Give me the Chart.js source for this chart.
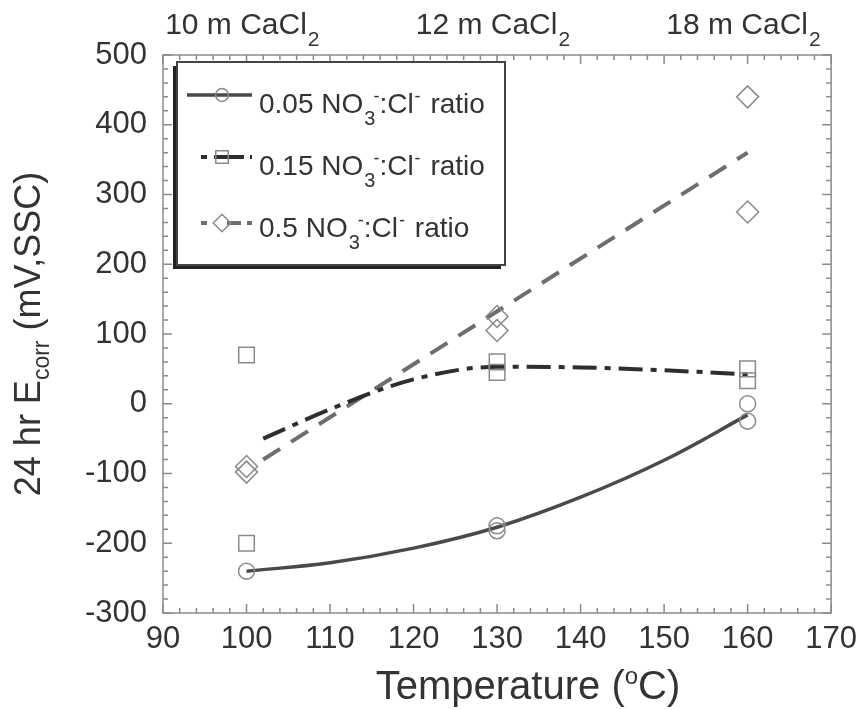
<!DOCTYPE html>
<html>
<head>
<meta charset="utf-8">
<script src="https://cdn.jsdelivr.net/npm/chart.js@4.4.0/dist/chart.umd.min.js"></script>
<style>
  html, body { margin: 0; padding: 0; background: #fff; }
  #wrap { width: 865px; height: 710px; }
</style>
</head>
<body>
<div id="wrap"><canvas id="chart"></canvas></div>
<script>
// Measured points (Temperature in C, Ecorr in mV SSC)
const circleX = [100, 130, 130, 160, 160];
const circleY = [-240, -175, -182, 0, -25];
const squareX = [100, 100, 130, 130, 160, 160];
const squareY = [70, -200, 60, 45, 50, 33];
const diamondX = [100, 100, 130, 130, 160, 160];
const diamondY = [-90, -98, 125, 105, 440, 275];

// Fit curves
const fit005X = [100, 110, 120, 130, 140, 150, 160];
const fit005Y = [-240, -228, -207, -177, -134, -81, -16];
const fit015X = [102, 110, 120, 130, 140, 150, 160];
const fit015Y = [-50, -8, 35, 53, 52, 48, 42];
const fit05X = [102, 160];
const fit05Y = [-80, 360];

// Axis ticks
const xTicks = [90, 100, 110, 120, 130, 140, 150, 160, 170];
const yTicks = [-300, -200, -100, 0, 100, 200, 300, 400, 500];
const topLabels = ['10 m CaCl', '12 m CaCl', '18 m CaCl'];
const topLabelX = [99.5, 129.5, 159.5];
const legendNames = ['0.05', '0.15', '0.5'];

const textColor = '#333';
const markColor = '#8a8a8a';
const FONT = "'Liberation Sans', Arial, sans-serif";

function pts(xs, ys) {
    return xs.map((v, i) => ({ x: v, y: ys[i] }));
}

// Draw a run of text pieces, each with its own size and vertical shift
function richText(ctx, parts, x, y, align) {
    let total = 0;
    parts.forEach(p => {
        ctx.font = p.size + 'px ' + FONT;
        p.w = ctx.measureText(p.t).width + (p.dx || 0);
        total += p.w;
    });
    let cx = align === 'center' ? x - total / 2 : x;
    parts.forEach(p => {
        ctx.font = p.size + 'px ' + FONT;
        ctx.fillText(p.t, cx + (p.dx || 0), y + (p.dy || 0));
        cx += p.w;
    });
}

const ratioParts = name => [
    { t: name + ' NO', size: 28 },
    { t: '3', size: 20, dy: 12, dx: 1 },
    { t: '-', size: 18, dy: -11, dx: -2 },
    { t: ':Cl', size: 28 },
    { t: '-', size: 18, dy: -11, dx: 1 },
    { t: ' ratio', size: 28, dx: 2 }
];

const decorPlugin = {
    id: 'decor',
    afterDatasetsDraw(chart) {
        const { ctx, chartArea: a, scales: { x, y } } = chart;
        ctx.save();
        // frame with inward ticks
        ctx.strokeStyle = markColor;
        ctx.lineWidth = 1.5;
        ctx.strokeRect(a.left, a.top, a.right - a.left, a.bottom - a.top);
        ctx.beginPath();
        for (let v = 90; v <= 170; v += 2) {
            const px = x.getPixelForValue(v);
            const len = v % 10 === 0 ? 9 : 5;
            ctx.moveTo(px, a.bottom); ctx.lineTo(px, a.bottom - len);
            ctx.moveTo(px, a.top); ctx.lineTo(px, a.top + len);
        }
        for (let v = -300; v <= 500; v += 20) {
            const py = y.getPixelForValue(v);
            const len = v % 100 === 0 ? 9 : 5;
            ctx.moveTo(a.left, py); ctx.lineTo(a.left + len, py);
            ctx.moveTo(a.right, py); ctx.lineTo(a.right - len, py);
        }
        ctx.stroke();

        // legend box
        const lx = 177, ly = 62, lw = 328, lh = 203;
        ctx.fillStyle = '#222';
        ctx.fillRect(lx - 4, ly + 4, lw, lh);
        ctx.fillStyle = '#fff';
        ctx.fillRect(lx, ly, lw, lh);
        ctx.strokeStyle = '#444';
        ctx.lineWidth = 2;
        ctx.strokeRect(lx, ly, lw, lh);

        const rows = [95, 157, 223];
        const baselines = [113, 175, 237];
        chart.data.datasets.filter(d => d.legendRow !== undefined).forEach(d => {
            const r = d.legendRow;
            const fit = chart.data.datasets.find(f => f.fitRow === r);
            ctx.save();
            ctx.strokeStyle = fit.borderColor;
            ctx.lineWidth = fit.borderWidth;
            ctx.setLineDash(fit.legendDash || []);
            ctx.beginPath();
            ctx.moveTo(r === 0 ? 187 : 201, rows[r]);
            ctx.lineTo(252, rows[r]);
            ctx.stroke();
            ctx.restore();
            ctx.save();
            ctx.strokeStyle = markColor;
            ctx.fillStyle = 'rgba(0,0,0,0)';
            ctx.lineWidth = 1.5;
            Chart.helpers.drawPoint(ctx, {
                pointStyle: d.pointStyle, radius: d.pointRadius * 0.8,
                borderWidth: 1.5
            }, 222, rows[r]);
            ctx.restore();
            ctx.fillStyle = textColor;
            ctx.textBaseline = 'alphabetic';
            ctx.textAlign = 'left';
            richText(ctx, ratioParts(legendNames[r]), 259, baselines[r], 'left');
        });
        ctx.restore();
    },
    afterDraw(chart) {
        const { ctx, chartArea: a, scales: { x, y } } = chart;
        ctx.save();
        ctx.fillStyle = textColor;
        ctx.textAlign = 'left';
        ctx.textBaseline = 'alphabetic';
        // top concentration labels
        topLabels.forEach((t, i) => {
            richText(ctx, [{ t: t, size: 30 }, { t: '2', size: 21, dy: 12, dx: 1 }],
                x.getPixelForValue(topLabelX[i]), 34, 'center');
        });
        // x title
        richText(ctx, [
            { t: 'Temperature (', size: 40 },
            { t: 'o', size: 24, dy: -15 },
            { t: 'C)', size: 40 }
        ], 528, 699, 'center');
        // y title, rotated
        ctx.translate(40, (a.top + a.bottom) / 2);
        ctx.rotate(-Math.PI / 2);
        richText(ctx, [
            { t: '24 hr E', size: 36 },
            { t: 'corr', size: 23, dy: 9 },
            { t: ' (mV,SSC)', size: 36 }
        ], 0, 0, 'center');
        ctx.restore();
    }
};

const markerStyle = {
    showLine: false,
    borderColor: markColor,
    backgroundColor: 'rgba(0,0,0,0)',
    borderWidth: 1.5,
    order: 1
};
const fitStyle = {
    showLine: true,
    pointRadius: 0,
    borderWidth: 4,
    order: 2
};

new Chart(document.getElementById('chart'), {
    type: 'scatter',
    data: {
        datasets: [
            Object.assign({}, fitStyle, {
                data: pts(fit005X, fit005Y), borderColor: '#4a4a4a', borderWidth: 3.5,
                tension: 0.4, fitRow: 0
            }),
            Object.assign({}, fitStyle, {
                data: pts(fit015X, fit015Y), borderColor: '#2e2e2e',
                borderDash: [24, 8, 6, 8], legendDash: [6, 7, 30],
                cubicInterpolationMode: 'monotone', fitRow: 1
            }),
            Object.assign({}, fitStyle, {
                data: pts(fit05X, fit05Y), borderColor: '#6e6e6e',
                borderDash: [20, 13], legendDash: [6, 20, 14], fitRow: 2
            }),
            Object.assign({}, markerStyle, {
                data: pts(circleX, circleY), pointStyle: 'circle', pointRadius: 8, legendRow: 0
            }),
            Object.assign({}, markerStyle, {
                data: pts(squareX, squareY), pointStyle: 'rect', pointRadius: 11, legendRow: 1
            }),
            Object.assign({}, markerStyle, {
                data: pts(diamondX, diamondY), pointStyle: 'rectRot', pointRadius: 11, legendRow: 2
            })
        ]
    },
    options: {
        responsive: true,
        maintainAspectRatio: false,
        animation: false,
        layout: { padding: { top: 55, right: 31, left: 0, bottom: 0 } },
        plugins: {
            legend: { display: false },
            tooltip: { enabled: false }
        },
        scales: {
            x: {
                type: 'linear',
                min: 90, max: 170,
                afterFit: s => { s.height = 97; },
                afterBuildTicks: s => { s.ticks = xTicks.map(v => ({ value: v })); },
                ticks: { font: { family: FONT, size: 31 }, color: textColor, padding: 8, maxRotation: 0 },
                grid: { display: false, drawTicks: false },
                border: { display: false }
            },
            y: {
                type: 'linear',
                min: -300, max: 500,
                afterFit: s => { s.width = 163; },
                afterBuildTicks: s => { s.ticks = yTicks.map(v => ({ value: v })); },
                ticks: { font: { family: FONT, size: 31 }, color: textColor, padding: 16 },
                grid: { display: false, drawTicks: false },
                border: { display: false }
            }
        }
    },
    plugins: [decorPlugin]
});
</script>
</body>
</html>
